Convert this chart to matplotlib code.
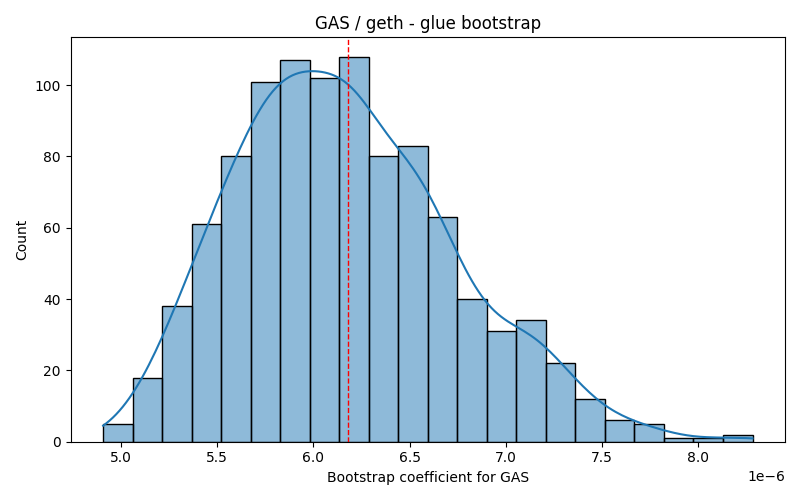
import numpy as np
import seaborn as sns
from matplotlib import pyplot as plt

# histogram (units of 1e-6)
binStart = 4.908
binWidth = 0.1533
counts = [5, 18, 38, 61, 80, 101, 107, 102, 108, 80, 83,
          63, 40, 31, 34, 22, 12, 6, 5, 1, 1, 2]
meanLine = 6.18

edges = (binStart + binWidth * np.arange(len(counts) + 1)) * 1e-6
centers = (edges[:-1] + edges[1:]) / 2
samples = np.repeat(centers, counts)
# the outer bin edges are the smallest and largest sample
samples[0] = edges[0]
samples[-1] = edges[-1]

fig, ax = plt.subplots(figsize=(8, 5), dpi=100)
sns.histplot(x=samples, bins=edges, kde=True, edgecolor='black', ax=ax)
ax.axvline(meanLine * 1e-6, color='red', linestyle='--', linewidth=1)
ax.set_title('GAS / geth - glue bootstrap')
ax.set_xlabel('Bootstrap coefficient for GAS')
ax.set_ylabel('Count')
fig.tight_layout()
fig.savefig('out.png')
